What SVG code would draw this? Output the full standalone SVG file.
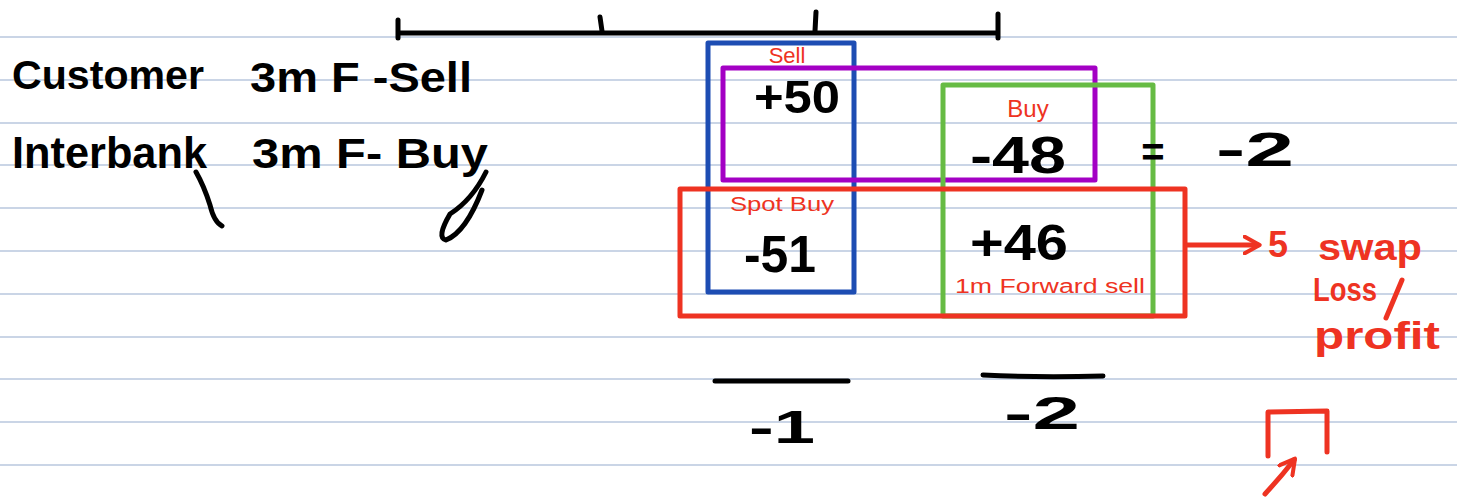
<svg xmlns="http://www.w3.org/2000/svg" width="1457" height="500" viewBox="0 0 1457 500">
  <style>
    .rule { stroke: #b9c7de; stroke-width: 1.5; }
    .ink { fill: #000; font-family: "Liberation Sans", "DejaVu Sans", sans-serif; font-weight: bold; }
    .red { fill: #ee3322; font-family: "Liberation Sans", "DejaVu Sans", sans-serif; }
    .bold { font-weight: bold; }
    .pen { fill: none; stroke: #000; stroke-width: 5; stroke-linecap: round; stroke-linejoin: round; }
    .rpen { fill: none; stroke: #ee3322; stroke-width: 5; stroke-linecap: round; stroke-linejoin: round; }
    .box { fill: none; stroke-width: 5; stroke-linejoin: round; }
  </style>
  <defs>
    <marker id="redHead" viewBox="0 0 12 12" refX="9" refY="6" markerWidth="4" markerHeight="4" orient="auto">
      <path d="M1,1 L10,6 L1,11" fill="none" stroke="#ee3322" stroke-width="2.4" stroke-linecap="round" stroke-linejoin="round"/>
    </marker>
  </defs>

  <rect width="1457" height="500" fill="#fff"/>

  <!-- ruled paper -->
  <g id="paper">
    <line class="rule" x1="0" y1="37" x2="1457" y2="37"/>
    <line class="rule" x1="0" y1="80" x2="1457" y2="80"/>
    <line class="rule" x1="0" y1="123" x2="1457" y2="123"/>
    <line class="rule" x1="0" y1="165" x2="1457" y2="165"/>
    <line class="rule" x1="0" y1="208" x2="1457" y2="208"/>
    <line class="rule" x1="0" y1="251" x2="1457" y2="251"/>
    <line class="rule" x1="0" y1="294" x2="1457" y2="294"/>
    <line class="rule" x1="0" y1="337" x2="1457" y2="337"/>
    <line class="rule" x1="0" y1="379" x2="1457" y2="379"/>
    <line class="rule" x1="0" y1="422" x2="1457" y2="422"/>
    <line class="rule" x1="0" y1="465" x2="1457" y2="465"/>
  </g>

  <!-- timeline -->
  <g id="timeline">
    <path class="pen" d="M400,33 L997,33"/>
    <path class="pen" d="M398,20 L398,38"/>
    <path class="pen" d="M600,17 L602,31"/>
    <path class="pen" d="M816,12 L815,31"/>
    <path class="pen" d="M998,14 L998,38"/>
  </g>

  <!-- deal descriptions -->
  <g id="deals">
    <text class="ink" x="12" y="89" font-size="40" textLength="192" lengthAdjust="spacingAndGlyphs">Customer</text>
    <text class="ink" x="250" y="92" font-size="42" textLength="222" lengthAdjust="spacingAndGlyphs">3m F -Sell</text>
    <text class="ink" x="12" y="168" font-size="44" textLength="195" lengthAdjust="spacingAndGlyphs">Interbank</text>
    <text class="ink" x="252" y="168" font-size="42" textLength="236" lengthAdjust="spacingAndGlyphs">3m F- Buy</text>
    <path class="pen" d="M196,172 Q204,186 210,205 Q214,222 222,226"/>
    <path class="pen" d="M486,172 Q472,200 450,214 Q436,238 446,240 Q466,232 482,190"/>
  </g>

  <!-- blue box: spot leg / near date -->
  <g id="blueBox">
    <rect class="box" x="708" y="43" width="146" height="249" stroke="#1d4db3"/>
    <text class="red" x="787" y="63" font-size="22" text-anchor="middle">Sell</text>
    <text class="ink" x="797" y="113" font-size="46" text-anchor="middle" textLength="86" lengthAdjust="spacingAndGlyphs">+50</text>
    <text class="red" x="782" y="211" font-size="20" text-anchor="middle" textLength="104" lengthAdjust="spacingAndGlyphs">Spot Buy</text>
    <text class="ink" x="780" y="272" font-size="52" text-anchor="middle" textLength="72" lengthAdjust="spacingAndGlyphs">-51</text>
  </g>

  <!-- purple box: 3m forward pair -->
  <g id="purpleBox">
    <rect class="box" x="723" y="68" width="372" height="112" stroke="#a300c4"/>
    <text class="red" x="1028" y="117" font-size="24" text-anchor="middle">Buy</text>
    <text class="ink" x="1018" y="173" font-size="52" text-anchor="middle" textLength="96" lengthAdjust="spacingAndGlyphs">-48</text>
  </g>

  <!-- green box: far date -->
  <g id="greenBox">
    <rect class="box" x="943" y="85" width="210" height="231" stroke="#66bb44"/>
    <text class="ink" x="1019" y="260" font-size="50" text-anchor="middle" textLength="98" lengthAdjust="spacingAndGlyphs">+46</text>
    <text class="red" x="1050" y="293" font-size="20" text-anchor="middle" textLength="190" lengthAdjust="spacingAndGlyphs">1m Forward sell</text>
  </g>

  <!-- red box: swap -->
  <g id="swapBox">
    <rect class="box" x="680" y="189" width="505" height="127" stroke="#ee3322"/>
  </g>

  <!-- result of forward pair -->
  <g id="forwardResult">
    <text class="ink" x="1153" y="166" font-size="40" text-anchor="middle">=</text>
    <text class="ink" x="1255" y="166" font-size="48" text-anchor="middle" textLength="78" lengthAdjust="spacingAndGlyphs">-2</text>
  </g>

  <!-- swap result -->
  <g id="swapResult">
    <text class="red bold" x="1278" y="257" font-size="36" text-anchor="middle">5</text>
    <text class="red bold" x="1318" y="260" font-size="36" textLength="104" lengthAdjust="spacingAndGlyphs">swap</text>
    <text class="red bold" x="1313" y="301" font-size="34" textLength="64" lengthAdjust="spacingAndGlyphs">Loss</text>
    <path class="rpen" d="M1402,280 L1386,318"/>
    <text class="red bold" x="1314" y="349" font-size="38" textLength="126" lengthAdjust="spacingAndGlyphs">profit</text>
  </g>

  <!-- connectors -->
  <g id="connectors">
    <path class="rpen" d="M1187,245 L1258,245" marker-end="url(#redHead)"/>
    <path class="rpen" d="M1265,494 Q1280,478 1294,460" marker-end="url(#redHead)"/>
  </g>

  <!-- column totals -->
  <g id="totals">
    <path class="pen" d="M715,381 L848,381"/>
    <path class="pen" d="M983,375 Q1040,378 1103,376"/>
    <text class="ink" x="782" y="443" font-size="46" text-anchor="middle" textLength="66" lengthAdjust="spacingAndGlyphs">-1</text>
    <text class="ink" x="1042" y="429" font-size="46" text-anchor="middle" textLength="76" lengthAdjust="spacingAndGlyphs">-2</text>
  </g>

  <!-- bracket mark -->
  <g id="bracket">
    <path class="rpen" d="M1268,456 L1268,412 L1327,411 L1327,452"/>
  </g>
</svg>
